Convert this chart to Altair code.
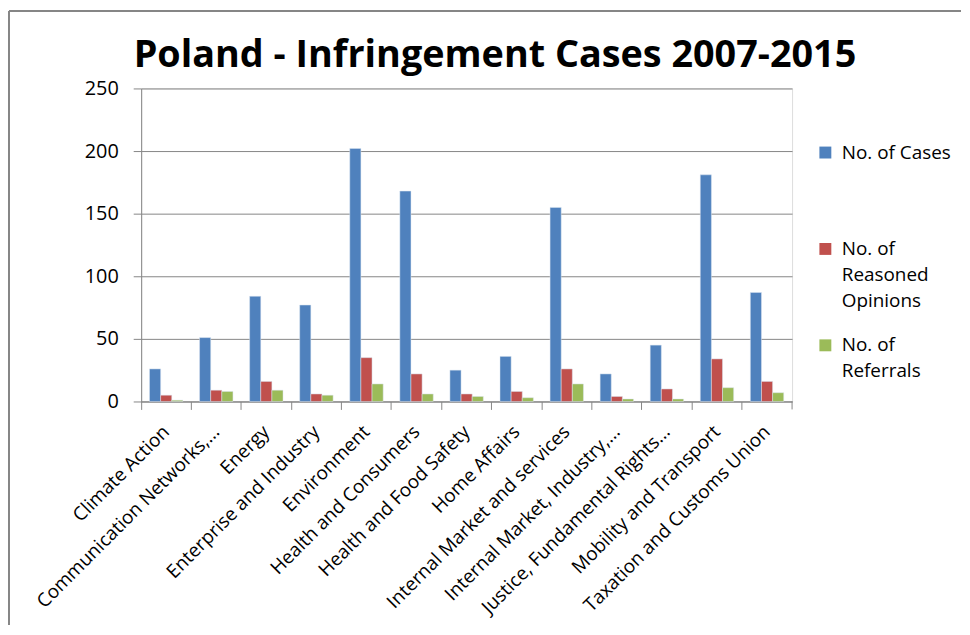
import altair as alt
import pandas as pd

title_text = "Poland - Infringement Cases 2007-2015"

categories = [
    "Climate Action",
    "Communication Networks,...",
    "Energy",
    "Enterprise and Industry",
    "Environment",
    "Health and Consumers",
    "Health and Food Safety",
    "Home Affairs",
    "Internal Market and services",
    "Internal Market, Industry,...",
    "Justice, Fundamental Rights...",
    "Mobility and Transport",
    "Taxation and Customs Union",
]
cases = [26, 51, 84, 77, 202, 168, 25, 36, 155, 22, 45, 181, 87]
reasoned = [5, 9, 16, 6, 35, 22, 6, 8, 26, 4, 10, 34, 16]
referrals = [1, 8, 9, 5, 14, 6, 4, 3, 14, 2, 2, 11, 7]

series = ["No. of Cases", "No. of Reasoned Opinions", "No. of Referrals"]
colors = ["#4F81BD", "#C0504D", "#9BBB59"]

rows = []
for i, c in enumerate(categories):
    for s, vals in zip(series, [cases, reasoned, referrals]):
        rows.append({"Category": c, "Series": s, "Value": vals[i]})
df = pd.DataFrame(rows)

FONT = "Open Sans"
GRID = "#868686"

bars = alt.Chart(df).mark_bar(stroke="#dbe4f0", strokeWidth=0.5).encode(
    x=alt.X("Category:N", sort=categories, title=None,
            scale=alt.Scale(paddingInner=0, paddingOuter=0, round=False),
            axis=alt.Axis(labelAngle=-45, labelAlign="right", labelBaseline="middle",
                          bandPosition=0, labelOffset=0, labelPadding=19,
                          labelFontSize=19, labelFont=FONT, labelColor="#000",
                          tickSize=8, tickColor=GRID, domainColor=GRID, labelLimit=400)),
    xOffset=alt.XOffset("Series:N", sort=series,
                        scale=alt.Scale(paddingOuter=0.75, paddingInner=0)),
    y=alt.Y("Value:Q", title=None,
            scale=alt.Scale(domain=[0, 250]),
            axis=alt.Axis(values=[0, 50, 100, 150, 200, 250], labelFontSize=20,
                          labelFont=FONT, labelColor="#000", tickSize=8,
                          tickColor=GRID, domainColor=GRID, gridColor=GRID,
                          labelPadding=15)),
    color=alt.Color("Series:N", sort=series,
                    scale=alt.Scale(domain=series, range=colors),
                    legend=alt.Legend(
                        title=None, orient="none", legendX=679, legendY=55, padding=0,
                        symbolType="square", symbolSize=144, symbolStrokeWidth=0,
                        labelFontSize=19, labelFont=FONT, labelColor="#000",
                        labelLimit=0, labelBaseline="middle", rowPadding=25,
                        labelOffset=7,
                        labelExpr="datum.label == 'No. of Cases' ? ['No. of Cases', '', ''] : datum.label == 'No. of Reasoned Opinions' ? ['No. of', 'Reasoned', 'Opinions'] : ['No. of', 'Referrals', '']")),
)

dummy = pd.DataFrame({"a": [0]})
frame_top = alt.Chart(dummy).mark_rule(color=GRID, strokeWidth=2).encode(
    x=alt.value(-133), x2=alt.value(825), y=alt.value(-78))
frame_left = alt.Chart(dummy).mark_rule(color=GRID, strokeWidth=2).encode(
    x=alt.value(-133), y=alt.value(-78), y2=alt.value(540))
end_tick = alt.Chart(dummy).mark_rule(color=GRID, strokeWidth=1).encode(
    x=alt.value(655), y=alt.value(315), y2=alt.value(323))
title = alt.Chart(dummy).mark_text(
    font=FONT, fontSize=38, fontWeight="bold", color="#000",
    align="center", baseline="alphabetic").encode(
    x=alt.value(356), y=alt.value(-22), text=alt.value(title_text))

chart = alt.layer(frame_top, frame_left, title, end_tick, bars).properties(
    width=655, height=315, padding=0,
).configure_view(stroke=None).configure(style={"guide-label": {"lineHeight": 26}})

chart.save("out.html", embed_options={"renderer": "svg", "actions": False})
